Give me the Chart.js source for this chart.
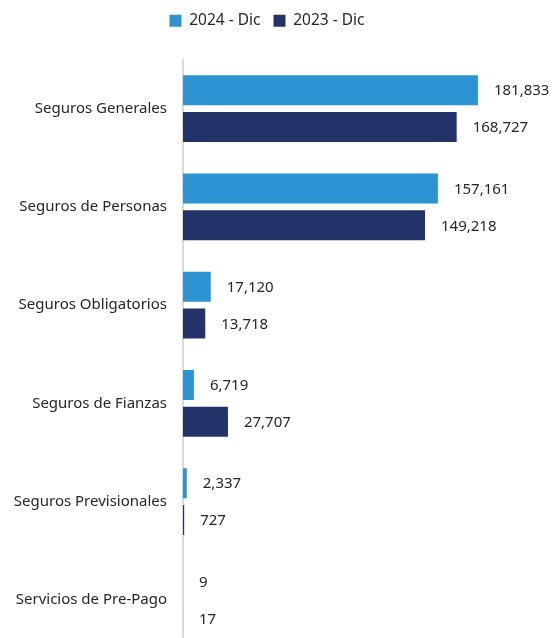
<!DOCTYPE html>
<html>
<head>
<meta charset="utf-8">
<script src="https://cdn.jsdelivr.net/npm/chart.js@4.4.1/dist/chart.umd.min.js"></script>
<style>
  html, body { margin: 0; padding: 0; background: #fff; overflow: hidden; }
  #wrap { width: 554px; height: 674px; }
</style>
</head>
<body>
<div id="wrap"><canvas id="chart" width="554" height="674"></canvas></div>
<script>
// Ramos de seguros, diciembre 2024 vs 2023
const categories = [
    'Seguros Generales',
    'Seguros de Personas',
    'Seguros Obligatorios',
    'Seguros de Fianzas',
    'Seguros Previsionales',
    'Servicios de Pre-Pago'
];
const values2024 = [181833, 157161, 17120, 6719, 2337, 9];
const values2023 = [168727, 149218, 13718, 27707, 727, 17];
const seriesLabels = ['2024 - Dic', '2023 - Dic'];

const FONT = '"Noto Sans", Lato, sans-serif';
const TEXT = '#262626';

// etiquetas de valor al final de cada barra
const valueLabels = {
    id: 'valueLabels',
    afterDatasetsDraw(chart) {
        const ctx = chart.ctx;
        ctx.save();
        ctx.font = '15px ' + FONT;
        ctx.fillStyle = TEXT;
        ctx.textAlign = 'left';
        ctx.textBaseline = 'middle';
        chart.data.datasets.forEach((ds, i) => {
            chart.getDatasetMeta(i).data.forEach((bar, j) => {
                ctx.fillText(ds.data[j].toLocaleString('en-US'), bar.x + 16, bar.y + 1);
            });
        });
        ctx.restore();
    }
};

// mas espacio debajo de la leyenda
const legendGap = {
    id: 'legendGap',
    beforeInit(chart) {
        const fit = chart.legend.fit;
        chart.legend.fit = function () {
            fit.bind(chart.legend)();
            this.height += 21;
        };
    }
};

new Chart(document.getElementById('chart'), {
    type: 'bar',
    data: {
        labels: categories,
        datasets: [
            { label: seriesLabels[0], data: values2024, backgroundColor: '#2D93D3' },
            { label: seriesLabels[1], data: values2023, backgroundColor: '#22336A' }
        ]
    },
    options: {
        indexAxis: 'y',
        responsive: false,
        devicePixelRatio: 1,
        animation: false,
        categoryPercentage: 0.752,
        barPercentage: 0.811,
        layout: { padding: { left: 0, right: 20, top: 0, bottom: 0 } },
        plugins: {
            legend: {
                position: 'top',
                labels: {
                    font: { family: FONT, size: 15.5 },
                    color: TEXT,
                    boxWidth: 12,
                    boxHeight: 12,
                    padding: 13
                }
            },
            tooltip: { enabled: false }
        },
        scales: {
            x: {
                min: 0,
                max: 216400,
                display: false,
                grid: { display: false }
            },
            y: {
                afterFit(scale) { scale.width = 183; },
                grid: { display: false, drawTicks: false },
                border: { display: true, color: '#DADADA', width: 2 },
                ticks: { font: { family: FONT, size: 15 }, color: TEXT, padding: 16 }
            }
        }
    },
    plugins: [valueLabels, legendGap]
});
</script>
</body>
</html>
